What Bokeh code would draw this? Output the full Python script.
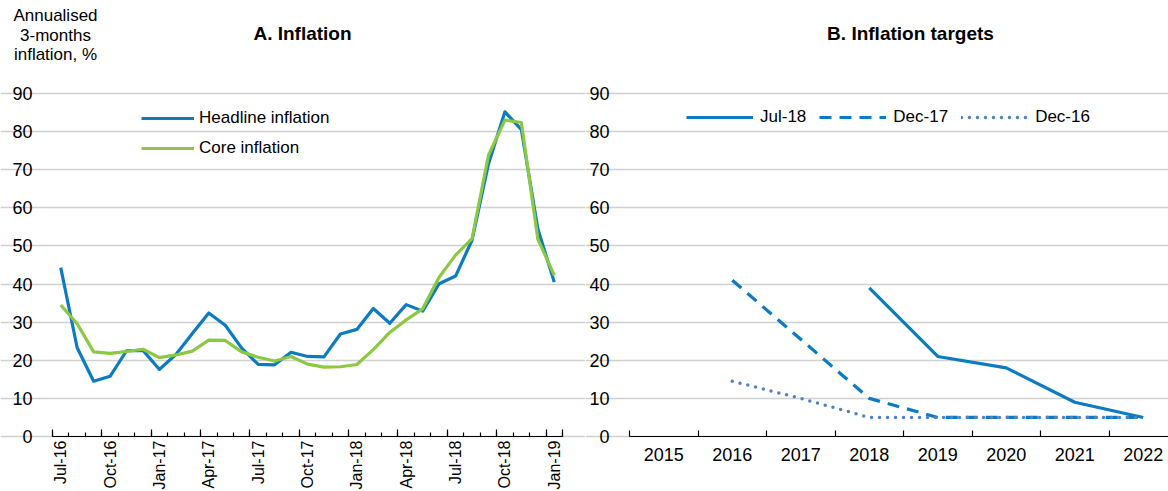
import math
from bokeh.plotting import figure
from bokeh.models import Range1d, FixedTicker, Legend, LegendItem, Label, LinearAxis
from bokeh.layouts import row
from bokeh.embed import file_html
from bokeh.resources import INLINE

FONT = "Liberation Sans"
BLUE = "#0C7BC1"
GREEN = "#8CC841"
DOTBLUE = "#4F81C4"
GRID = "#D0D0D0"

# ---------------- data ----------------
months = ["Jul-16", "Aug-16", "Sep-16", "Oct-16", "Nov-16", "Dec-16",
          "Jan-17", "Feb-17", "Mar-17", "Apr-17", "May-17", "Jun-17",
          "Jul-17", "Aug-17", "Sep-17", "Oct-17", "Nov-17", "Dec-17",
          "Jan-18", "Feb-18", "Mar-18", "Apr-18", "May-18", "Jun-18",
          "Jul-18", "Aug-18", "Sep-18", "Oct-18", "Nov-18", "Dec-18",
          "Jan-19"]
headline = [44.3, 23.3, 14.5, 15.8, 22.5, 22.6, 17.6, 21.5, 27.0, 32.4,
            29.2, 23.2, 18.9, 18.8, 22.1, 21.0, 20.9, 26.9, 28.1, 33.6,
            29.7, 34.6, 32.9, 40.1, 42.1, 51.5, 71.5, 85.2, 80.5, 54.5,
            40.5]
core = [34.5, 29.6, 22.2, 21.8, 22.3, 22.9, 20.7, 21.4, 22.4, 25.3,
        25.2, 22.2, 20.8, 19.8, 21.0, 19.0, 18.2, 18.3, 18.9, 22.8,
        27.3, 30.6, 33.5, 41.8, 47.6, 51.9, 73.8, 83.0, 82.4, 51.8,
        42.3]
label_every = 3

years = ["2015", "2016", "2017", "2018", "2019", "2020", "2021", "2022"]
nan = float("nan")
target_jul18 = [nan, nan, nan, 39, 21, 18, 9, 5]
target_dec17 = [nan, 41, 25.5, 10, 5, 5, 5, 5]
target_dec16 = [nan, 14.5, 10, 5, 5, 5, 5, 5]

y_ticks = list(range(0, 91, 10))
Y_MAX = 90

# ---------------- geometry (page pixels) ----------------
H = 490
FRAME_BOTTOM = 436          # y of the zero line
FRAME_TOP90 = 93            # y of the 90 line
px_per_unit = (FRAME_BOTTOM - FRAME_TOP90) / Y_MAX
y_top = FRAME_BOTTOM / px_per_unit
y_bot = -(H - FRAME_BOTTOM) / px_per_unit

W1 = 585
A_LEFT, A_RIGHT = 52, 562
W2 = 583
B_LEFT, B_CAT = 629 - W1, 68.5


def style_common(p, x0, x1):
    p.outline_line_color = None
    p.xgrid.visible = False
    p.ygrid.grid_line_color = GRID
    p.ygrid.grid_line_width = 1.3
    p.ygrid.bounds = (x0, x1)
    p.yaxis.ticker = FixedTicker(ticks=y_ticks)
    p.yaxis.fixed_location = x0
    p.yaxis.axis_line_color = None
    p.yaxis.major_tick_line_color = None
    p.yaxis.minor_tick_line_color = None
    p.yaxis.major_label_text_font = FONT
    p.yaxis.major_label_text_font_size = "18px"
    p.yaxis.major_label_text_color = "black"
    p.yaxis.major_label_standoff = 14
    p.xaxis.fixed_location = 0
    p.xaxis.bounds = (x0, x1)
    p.xaxis.axis_line_color = "black"
    p.xaxis.axis_line_width = 1.2
    p.xaxis.major_tick_in = 0
    p.xaxis.major_tick_out = 0
    p.xaxis.minor_tick_out = 0
    p.xaxis.minor_tick_line_color = "black"
    p.xaxis.minor_tick_line_width = 1.2
    p.xaxis.major_label_text_font = FONT
    p.xaxis.major_label_text_color = "black"


def screen_label(p, x, y_page, text, bold=False, size="17px"):
    p.add_layout(Label(x=x, y=H - y_page, x_units="screen", y_units="screen",
                       text=text, text_font=FONT, text_font_size=size,
                       text_font_style="bold" if bold else "normal",
                       text_align="center", text_baseline="middle",
                       text_color="black"))


def make_fig(width, x_start, x_end):
    return figure(width=width, height=H, title=None,
                  x_range=Range1d(x_start, x_end), y_range=Range1d(y_bot, y_top),
                  output_backend="svg", toolbar_location=None,
                  min_border_left=0, min_border_right=0,
                  min_border_top=0, min_border_bottom=0)


# ---------------- panel A ----------------
n = len(months)
xs = list(range(n))
ppc = (A_RIGHT - A_LEFT) / n
p1 = make_fig(W1, -0.5 - A_LEFT / ppc, n - 0.5 + (W1 - A_RIGHT) / ppc)
style_common(p1, -0.5, n - 0.5)
lab_idx = list(range(0, n, label_every))
p1.xaxis.ticker = FixedTicker(ticks=lab_idx, minor_ticks=[i - 0.5 for i in range(n + 1)])
p1.xaxis.major_label_overrides = {i: months[i] for i in lab_idx}
p1.xaxis.major_label_orientation = math.pi / 2
p1.xaxis.major_label_standoff = 4
p1.xaxis.major_label_text_font_size = "16px"
p1.xaxis.minor_tick_in = 4

# longer tick marks at each quarter boundary
quarter_bounds = [i - 0.5 for i in range(0, n, label_every)] + [n - 0.5]
long_ticks = LinearAxis(fixed_location=0, bounds=(-0.5, n - 0.5),
                        ticker=FixedTicker(ticks=quarter_bounds),
                        major_label_overrides={t: "" for t in quarter_bounds},
                        axis_line_color=None, minor_tick_line_color=None,
                        major_tick_in=7, major_tick_out=0,
                        major_tick_line_color="black", major_tick_line_width=1.2)
p1.add_layout(long_ticks, "below")

r_head = p1.line(xs, headline, line_color=BLUE, line_width=3.2, line_join="round")
r_core = p1.line(xs, core, line_color=GREEN, line_width=3.2, line_join="round")

leg1 = Legend(items=[LegendItem(label="Headline inflation", renderers=[r_head]),
                     LegendItem(label="Core inflation", renderers=[r_core])],
              location=(141, H - 158), orientation="vertical",
              glyph_width=53, glyph_height=20, label_height=20, spacing=10,
              padding=0, margin=0, label_standoff=5,
              background_fill_alpha=0, border_line_color=None,
              label_text_font=FONT, label_text_font_size="17px",
              label_text_color="black")
p1.add_layout(leg1)

screen_label(p1, 302, 33, "A. Inflation", bold=True, size="19px")
screen_label(p1, 55, 15, "Annualised")
screen_label(p1, 55, 35, "3-months")
screen_label(p1, 55, 54, "inflation, %")

# ---------------- panel B ----------------
m = len(years)
yx = list(range(m))
p2 = make_fig(W2, -0.5 - B_LEFT / B_CAT, -0.5 + (W2 - B_LEFT) / B_CAT)
style_common(p2, -0.5, m - 0.5)
p2.xaxis.ticker = FixedTicker(ticks=yx, minor_ticks=[k - 0.5 for k in range(m + 1)])
p2.xaxis.major_label_overrides = {k: years[k] for k in yx}
p2.xaxis.major_label_standoff = 11
p2.xaxis.major_label_text_font_size = "18px"
p2.xaxis.minor_tick_in = 6

r_j = p2.line(yx, target_jul18, line_color=BLUE, line_width=3.2, line_join="round")
r_d17 = p2.line(yx, target_dec17, line_color=BLUE, line_width=3.2, line_dash="12 8")
r_d16 = p2.line(yx, target_dec16, line_color=DOTBLUE, line_width=3.5,
                line_dash="0 8", line_cap="round")

leg2 = Legend(items=[LegendItem(label="Jul-18", renderers=[r_j]),
                     LegendItem(label="Dec-17", renderers=[r_d17]),
                     LegendItem(label="Dec-16", renderers=[r_d16])],
              location=(686 - W1, H - 127), orientation="horizontal",
              glyph_width=67, glyph_height=20, label_height=20, spacing=13,
              padding=0, margin=0, label_standoff=7,
              background_fill_alpha=0, border_line_color=None,
              label_text_font=FONT, label_text_font_size="17px",
              label_text_color="black")
p2.add_layout(leg2)

screen_label(p2, 910 - W1, 33, "B. Inflation targets", bold=True, size="19px")

layout = row(p1, p2)
open("out.html", "w").write(file_html(layout, INLINE))
